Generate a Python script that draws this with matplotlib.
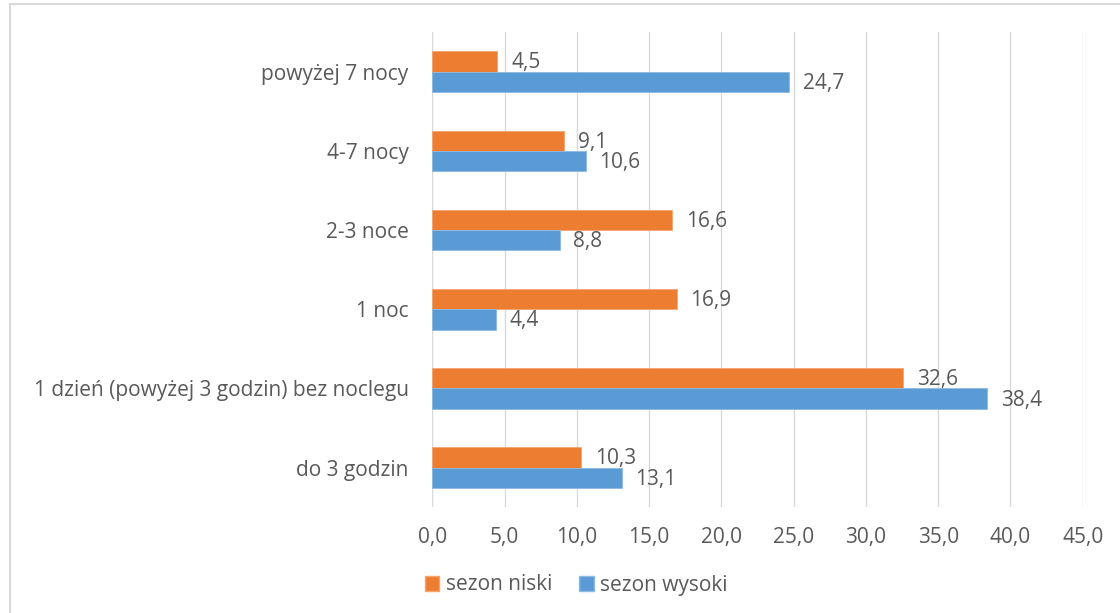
import matplotlib
matplotlib.use("Agg")
import matplotlib.pyplot as plt
import numpy as np
from matplotlib.lines import Line2D

categories = [
    "do 3 godzin",
    "1 dzień (powyżej 3 godzin) bez noclegu",
    "1 noc",
    "2-3 noce",
    "4-7 nocy",
    "powyżej 7 nocy",
]
sezon_niski = [10.3, 32.6, 16.9, 16.6, 9.1, 4.5]
sezon_wysoki = [13.1, 38.4, 4.4, 8.8, 10.6, 24.7]
xticks = [0, 5, 10, 15, 20, 25, 30, 35, 40, 45]

orange = "#ED7D31"
blue = "#5B9BD5"
text_color = "#595959"

plt.rcParams["font.family"] = ["Open Sans", "DejaVu Sans"]
fs = 15


def fmt(v):
    return f"{v:.1f}".replace(".", ",")


fig = plt.figure(figsize=(11.2, 6.13), dpi=100)
ax = fig.add_axes([0.386, 0.1724, 0.5807, 0.7754])

y = np.arange(len(categories))
h = 0.256
bars_n = ax.barh(y + h / 2, sezon_niski, height=h, color=orange,
                 edgecolor="#F4A470", linewidth=0.6, label="sezon niski", zorder=3)
bars_w = ax.barh(y - h / 2, sezon_wysoki, height=h, color=blue,
                 edgecolor="#8DBBE3", linewidth=0.6, label="sezon wysoki", zorder=3)

for bars in (bars_n, bars_w):
    for b in bars:
        v = b.get_width()
        ax.annotate(fmt(v), (v, b.get_y() + b.get_height() / 2),
                    xytext=(10, -1), textcoords="offset points",
                    ha="left", va="center", fontsize=fs, color=text_color)

ax.set_xlim(0, 45)
ax.set_ylim(-0.5, len(categories) - 0.5)
ax.set_xticks(xticks)
ax.set_xticklabels([fmt(t) for t in xticks])
ax.set_yticks(y)
ax.set_yticklabels(categories)
ax.tick_params(axis="both", length=0, labelsize=fs, labelcolor=text_color)
ax.tick_params(axis="x", pad=14)
ax.tick_params(axis="y", pad=17)
ax.grid(axis="x", color="#D9D9D9", linewidth=1.0, zorder=0)
for s in ax.spines.values():
    s.set_visible(False)

handles = [
    plt.Rectangle((0, 0), 1, 1, facecolor=orange, edgecolor="#F4A470"),
    plt.Rectangle((0, 0), 1, 1, facecolor=blue, edgecolor="#8DBBE3"),
]
fig.legend(handles, ["sezon niski", "sezon wysoki"], loc="center",
           bbox_to_anchor=(576 / 1120, 1 - 585 / 613), ncol=2, frameon=False,
           fontsize=fs, labelcolor=text_color, handlelength=0.7,
           handleheight=0.7, handletextpad=0.3, columnspacing=1.3)

# chart frame (left and top edges visible)
fig.add_artist(Line2D([10 / 1120, 10 / 1120], [0, 1 - 4 / 613],
                      transform=fig.transFigure, color="#D9D9D9", linewidth=1.5))
fig.add_artist(Line2D([10 / 1120, 1], [1 - 4 / 613, 1 - 4 / 613],
                      transform=fig.transFigure, color="#D9D9D9", linewidth=1.5))

fig.savefig("out.png", dpi=100)
